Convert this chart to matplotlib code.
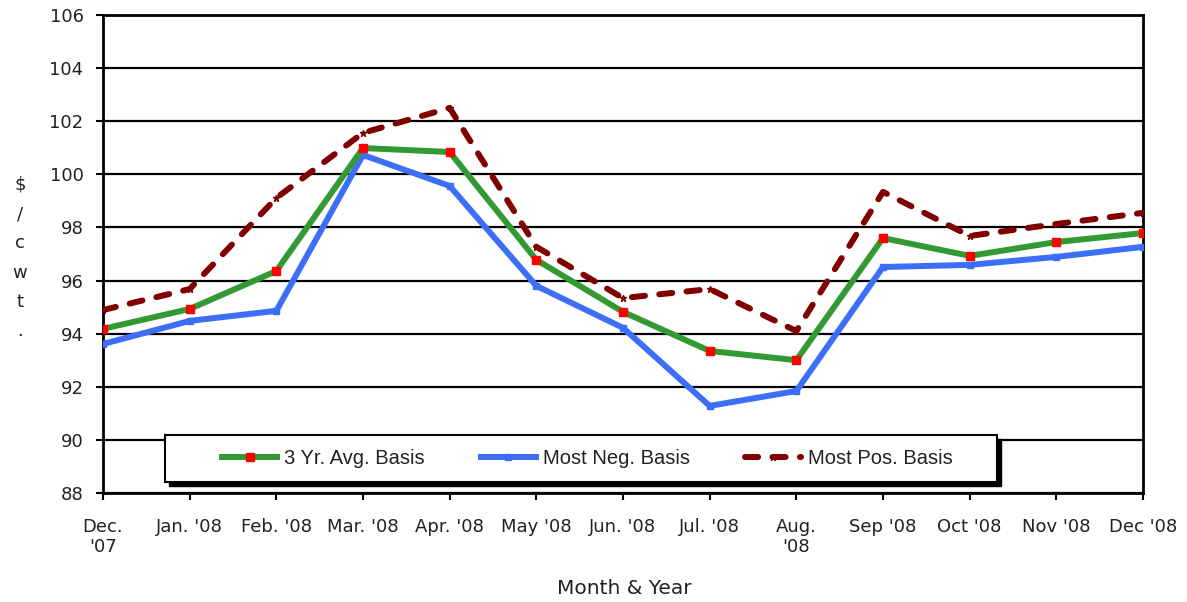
import matplotlib
matplotlib.use("Agg")
import matplotlib.pyplot as plt
from matplotlib.patches import Rectangle
from matplotlib.transforms import Affine2D

months = ["Dec.\n'07", "Jan. '08", "Feb. '08", "Mar. '08", "Apr. '08", "May '08",
          "Jun. '08", "Jul. '08", "Aug.\n'08", "Sep '08", "Oct '08", "Nov '08", "Dec '08"]
avg_basis = [94.18, 94.93, 96.36, 100.99, 100.84, 96.78, 94.82, 93.35, 93.00, 97.60, 96.93, 97.45, 97.79]
neg_basis = [93.61, 94.48, 94.86, 100.73, 99.56, 95.80, 94.22, 91.28, 91.84, 96.51, 96.59, 96.89, 97.27]
pos_basis = [94.89, 95.68, 99.11, 101.56, 102.50, 97.27, 95.34, 95.68, 94.10, 99.34, 97.68, 98.13, 98.55]
yticks = list(range(88, 107, 2))

plt.rcParams['font.family'] = ['DejaVu Sans']

W, H = 1187, 602
fig = plt.figure(figsize=(W / 100, H / 100), dpi=100)
ax = fig.add_axes([103 / W, 1 - 493 / H, 1040 / W, 478 / H])

x = list(range(len(months)))
ax.plot(x, pos_basis, color='#800000', lw=4.3, ls=(0, (2.2, 2.4)), dash_capstyle='round',
        marker='*', ms=5, mfc='#800000', mec='#800000', label='Most Pos. Basis', zorder=3)
ax.plot(x, neg_basis, color='#3d6ef7', lw=4.3, marker='s', ms=4, mfc='#3d6ef7', mec='#3d6ef7',
        label='Most Neg. Basis', zorder=4)
ax.plot(x, avg_basis, color='#339933', lw=4.3, marker='s', ms=5.5, mfc='#ff0000', mec='#ff0000',
        label='3 Yr. Avg. Basis', zorder=5)

ax.set_xlim(0, len(months) - 1)
ax.set_ylim(88, 106)
ax.set_yticks(yticks)
ax.set_yticklabels([str(v) for v in yticks], fontsize=13, color='#222222')
ax.set_xticks(x)
ax.set_xticklabels(months, fontsize=13, color='#222222', linespacing=1.15)
ax.tick_params(axis='both', direction='out', width=1.5, length=5, color='black')
ax.tick_params(axis='x', pad=13)
ax.tick_params(axis='y', pad=9)
for s in ax.spines.values():
    s.set_linewidth(2)
    s.set_color('black')
ax.grid(axis='y', color='black', lw=1.6)
ax.set_axisbelow(True)

fig.text(20 / W, 1 - 258 / H, "$\n/\nc\nw\nt\n.", fontsize=13, ha='center', va='center',
         linespacing=1.8, color='#222222')
fig.text(624 / W, 1 - 589 / H, "Month & Year", fontsize=14.5, ha='center', va='center',
         color='#222222')

# legend box with black shadow (figure pixel coordinates)
pix = Affine2D().scale(1.0 / W, -1.0 / H).translate(0, 1) + fig.transFigure
bx0, bx1, by0, by1 = 165, 997, 435, 482
fig.patches.append(Rectangle((bx0 + 4, by0 + 4), bx1 - bx0, by1 - by0, transform=pix,
                             facecolor='black', edgecolor='black', zorder=9))
fig.patches.append(Rectangle((bx0, by0), bx1 - bx0, by1 - by0, transform=pix,
                             facecolor='white', edgecolor='black', lw=1.5, zorder=10))

handles, labels = ax.get_legend_handles_labels()
order = [2, 1, 0]
leg = fig.legend([handles[i] for i in order], [labels[i] for i in order],
                 loc='center left', bbox_to_anchor=(212 / W, 1 - 459 / H),
                 ncol=3, frameon=False,
                 borderpad=0.0, handlelength=2.75, handletextpad=0.35, columnspacing=2.75,
                 prop={'family': 'Liberation Sans', 'size': 14.5})
leg.set_zorder(11)
for t in leg.get_texts():
    t.set_color('#222222')

fig.savefig("out.png", dpi=100)
